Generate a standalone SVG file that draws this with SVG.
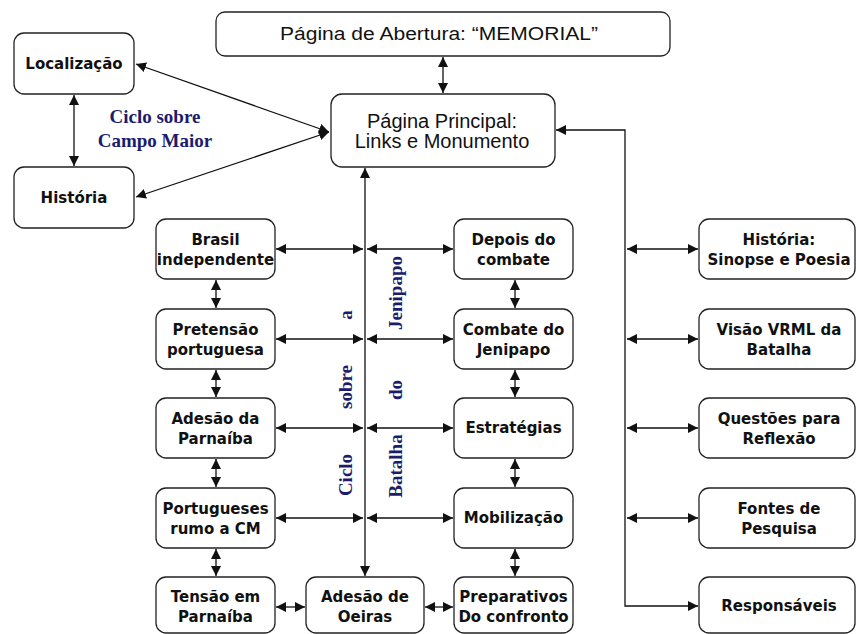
<svg xmlns="http://www.w3.org/2000/svg" width="856" height="634" viewBox="0 0 856 634">
<style>
.box{fill:#fff;stroke:#222;stroke-width:1.3}
.t{font-family:"DejaVu Sans",Verdana,sans-serif;font-weight:bold;font-size:15px;fill:#111;text-anchor:middle}
.a{font-family:"Liberation Sans",Arial,sans-serif;fill:#111;text-anchor:middle}
.s{font-family:"Liberation Serif","Times New Roman",serif;font-weight:bold;font-size:19px;fill:#1c1c6c;text-anchor:middle}
.c{fill:none;stroke:#111;stroke-width:1.3;marker-start:url(#ah);marker-end:url(#ah)}
</style>
<defs>
<marker id="ah" viewBox="0 0 10 10" refX="10" refY="5" markerWidth="10" markerHeight="10" markerUnits="userSpaceOnUse" orient="auto-start-reverse">
<path d="M0,0 L10,5 L0,10 z" fill="#111"/>
</marker>
</defs>
<rect width="856" height="634" fill="#fff"/>

<g id="connectors">
<path class="c" d="M443,57 V93"/>
<path class="c" d="M136,64 L329,132"/>
<path class="c" d="M136,197 L329,132"/>
<path class="c" d="M74,95 V166"/>
<path class="c" d="M365,168 V576"/>
<path class="c" d="M276,249 H363"/>
<path class="c" d="M367,249 H453"/>
<path class="c" d="M276,339 H363"/>
<path class="c" d="M367,339 H453"/>
<path class="c" d="M276,428 H363"/>
<path class="c" d="M367,428 H453"/>
<path class="c" d="M276,518 H363"/>
<path class="c" d="M367,518 H453"/>
<path class="c" d="M216,280 V308"/>
<path class="c" d="M216,370 V397"/>
<path class="c" d="M216,459 V487"/>
<path class="c" d="M216,549 V576"/>
<path class="c" d="M515,280 V308"/>
<path class="c" d="M515,370 V397"/>
<path class="c" d="M515,459 V487"/>
<path class="c" d="M515,549 V576"/>
<path class="c" d="M276,607 H305"/>
<path class="c" d="M425,607 H453"/>
<path class="c" d="M698,606 H625 V130 H556"/>
<path class="c" d="M627,249 H698"/>
<path class="c" d="M627,339 H698"/>
<path class="c" d="M627,428 H698"/>
<path class="c" d="M627,518 H698"/>
</g>

<g id="abertura"><rect class="box" x="216" y="12" width="454" height="44" rx="9"/><text class="a" x="439" y="40" font-size="17.5" textLength="318" lengthAdjust="spacingAndGlyphs">Página de Abertura: “MEMORIAL”</text></g>
<g id="principal"><rect class="box" x="331" y="94" width="224" height="73" rx="11"/><text class="a" x="442" y="128" font-size="20">Página Principal:</text><text class="a" x="442" y="148" font-size="20">Links e Monumento</text></g>
<g id="localizacao"><rect class="box" x="14" y="33" width="120" height="61" rx="10"/><text class="t" x="74" y="69">Localização</text></g>
<g id="historia"><rect class="box" x="14" y="167" width="120" height="61" rx="10"/><text class="t" x="74" y="203">História</text></g>

<text class="s" x="155" y="123">Ciclo sobre</text>
<text class="s" x="155" y="147">Campo Maior</text>

<text class="s" transform="translate(352,315) rotate(-90)">a</text>
<text class="s" transform="translate(352,387) rotate(-90)">sobre</text>
<text class="s" transform="translate(352,475) rotate(-90)">Ciclo</text>
<text class="s" transform="translate(402,293) rotate(-90)">Jenipapo</text>
<text class="s" transform="translate(402,390) rotate(-90)">do</text>
<text class="s" transform="translate(402,466) rotate(-90)">Batalha</text>

<g id="brasil"><rect class="box" x="156" y="219" width="119" height="60" rx="10"/><text class="t" x="215.5" y="245">Brasil</text><text class="t" x="215.5" y="265">independente</text></g>
<g id="pretensao"><rect class="box" x="156" y="309" width="119" height="60" rx="10"/><text class="t" x="215.5" y="335">Pretensão</text><text class="t" x="215.5" y="355">portuguesa</text></g>
<g id="adesao-parnaiba"><rect class="box" x="156" y="398" width="119" height="60" rx="10"/><text class="t" x="215.5" y="424">Adesão da</text><text class="t" x="215.5" y="444">Parnaíba</text></g>
<g id="portugueses"><rect class="box" x="156" y="488" width="119" height="60" rx="10"/><text class="t" x="215.5" y="514">Portugueses</text><text class="t" x="215.5" y="534">rumo a CM</text></g>
<g id="tensao"><rect class="box" x="156" y="577" width="119" height="56" rx="10"/><text class="t" x="215.5" y="602">Tensão em</text><text class="t" x="215.5" y="622">Parnaíba</text></g>
<g id="oeiras"><rect class="box" x="306" y="577" width="118" height="56" rx="10"/><text class="t" x="365" y="602">Adesão de</text><text class="t" x="365" y="622">Oeiras</text></g>

<g id="depois"><rect class="box" x="454" y="219" width="119" height="60" rx="10"/><text class="t" x="513.5" y="245">Depois do</text><text class="t" x="513.5" y="265">combate</text></g>
<g id="combate"><rect class="box" x="454" y="309" width="119" height="60" rx="10"/><text class="t" x="513.5" y="335">Combate do</text><text class="t" x="513.5" y="355">Jenipapo</text></g>
<g id="estrategias"><rect class="box" x="454" y="398" width="119" height="60" rx="10"/><text class="t" x="513.5" y="433">Estratégias</text></g>
<g id="mobilizacao"><rect class="box" x="454" y="488" width="119" height="60" rx="10"/><text class="t" x="513.5" y="523">Mobilização</text></g>
<g id="preparativos"><rect class="box" x="454" y="577" width="119" height="56" rx="10"/><text class="t" x="513.5" y="602">Preparativos</text><text class="t" x="513.5" y="622">Do confronto</text></g>

<g id="historia-sinopse"><rect class="box" x="699" y="219" width="156" height="60" rx="10"/><text class="t" x="779" y="245">História:</text><text class="t" x="779" y="265">Sinopse e Poesia</text></g>
<g id="visao"><rect class="box" x="699" y="309" width="156" height="60" rx="10"/><text class="t" x="779" y="335">Visão VRML da</text><text class="t" x="779" y="355">Batalha</text></g>
<g id="questoes"><rect class="box" x="699" y="398" width="156" height="60" rx="10"/><text class="t" x="779" y="424">Questões para</text><text class="t" x="779" y="444">Reflexão</text></g>
<g id="fontes"><rect class="box" x="699" y="488" width="156" height="60" rx="10"/><text class="t" x="779" y="514">Fontes de</text><text class="t" x="779" y="534">Pesquisa</text></g>
<g id="responsaveis"><rect class="box" x="699" y="577" width="156" height="56" rx="10"/><text class="t" x="779" y="611">Responsáveis</text></g>
</svg>
